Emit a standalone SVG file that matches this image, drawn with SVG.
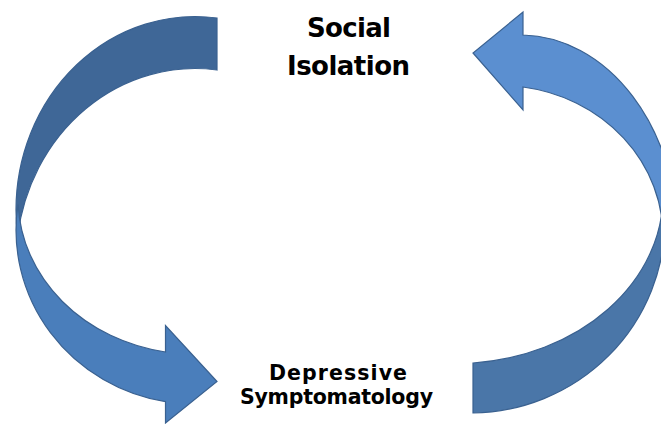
<svg xmlns="http://www.w3.org/2000/svg" width="661" height="424" viewBox="0 0 661 424">
  <style>
    .lbl { font-family: "DejaVu Sans", "Liberation Sans", sans-serif; font-weight: bold; fill: #000; text-anchor: middle; }
    .big { font-size: 26px; }
    .small { font-size: 20.5px; }
    .arr { stroke: #3a6190; stroke-width: 1.2; stroke-linejoin: miter; }
    .left-back { fill: #3f6797; }
    .left-front { fill: #4a7ebb; }
    .right-back { fill: #4a76a8; }
    .right-front { fill: #5b8fd0; }
  </style>
  <rect width="661" height="424" fill="#ffffff"/>
  <g id="connectors">
    <g id="arrow-isolation-to-depressive">
      <path class="arr left-back" d="M217,18 A179,193.5 0 0 0 16,210 A179,193.5 0 0 0 17.6,236 A179,193.5 0 0 1 217,70 Z"/>
      <path class="arr left-front" d="M17.9,205 A179,174 0 0 0 165.5,401.7 L165.5,423 L217,381.5 L165.5,325.5 L165.5,352 A177,156 0 0 1 18.2,205 Z"/>
    </g>
    <g id="arrow-depressive-to-isolation">
      <path class="arr right-back" d="M473,413 A195,193 0 0 0 665,220 L663,195 A208,168.6 0 0 1 473,363 Z"/>
      <path class="arr right-front" d="M523,35 A158,205 0 0 1 678,240 L663,238 A163,151 0 0 0 523,87 L523,110 L473,53 L523,12 Z"/>
    </g>
  </g>
  <g id="node-social-isolation">
    <text class="lbl big" x="349" y="37" textLength="84">Social</text>
    <text class="lbl big" x="348.5" y="75" textLength="123">Isolation</text>
  </g>
  <g id="node-depressive-symptomatology">
    <text class="lbl small" x="338" y="380" textLength="138">Depressive</text>
    <text class="lbl small" x="336.5" y="404" textLength="193">Symptomatology</text>
  </g>
</svg>
